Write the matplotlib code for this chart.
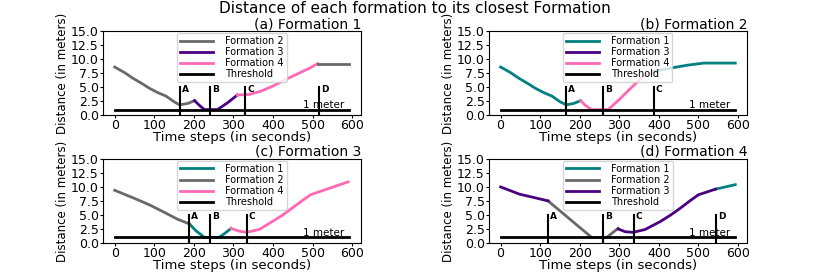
import numpy as np
import matplotlib
matplotlib.use("Agg")
import matplotlib.pyplot as plt

# ============== data ==============
teal = "#008080"
gray = "#696969"
purple = "#4b0082"
pink = "#ff69b4"

t_end = 593
threshold = 1.0

# (a) Formation 1
a_f2_t = [0, 25, 46, 70, 88, 110, 130, 150, 164, 185, 202]
a_f2_d = [8.6, 7.6, 6.6, 5.6, 4.8, 4.0, 3.4, 2.4, 1.85, 2.1, 2.6]
a_f3_t = [202, 215, 227, 260, 285, 310]
a_f3_d = [2.6, 1.7, 1.0, 1.0, 2.2, 3.6]
a_f4_t = [310, 340, 370, 400, 430, 460, 490, 513]
a_f4_d = [3.6, 3.7, 4.3, 5.2, 6.3, 7.3, 8.3, 9.2]
a_f2b_t = [513, 593]
a_f2b_d = [9.2, 9.2]
a_events = [("A", 164), ("B", 241), ("C", 330), ("D", 517)]

# (b) Formation 2
b_f1_t = [0, 25, 46, 70, 88, 110, 130, 150, 166, 185, 202]
b_f1_d = [8.6, 7.6, 6.6, 5.6, 4.8, 4.0, 3.4, 2.4, 1.85, 2.1, 2.6]
b_f4_t = [202, 215, 230, 272, 300, 330, 361, 386]
b_f4_d = [2.6, 1.7, 1.0, 1.0, 2.8, 4.9, 7.0, 7.6]
b_f1b_t = [386, 429, 470, 513, 593]
b_f1b_d = [7.8, 8.4, 8.9, 9.3, 9.3]
b_events = [("A", 164), ("B", 260), ("C", 387)]

# (c) Formation 3
c_f2_t = [0, 45, 88, 130, 160, 189]
c_f2_d = [9.4, 8.1, 6.8, 5.3, 4.2, 3.4]
c_f1_t = [189, 205, 227, 264, 280, 294]
c_f1_d = [3.4, 2.2, 1.0, 1.0, 1.8, 2.6]
c_f4_t = [294, 315, 333, 365, 398, 425, 449, 475, 495, 540, 590]
c_f4_d = [2.6, 2.1, 1.9, 2.4, 3.8, 5.0, 6.25, 7.6, 8.6, 9.7, 10.9]
c_events = [("A", 189), ("B", 242), ("C", 334)]

# (d) Formation 4
d_f3_t = [0, 48, 85, 120]
d_f3_d = [10.0, 8.7, 8.1, 7.5]
d_f2_t = [120, 230, 268, 297]
d_f2_d = [7.5, 1.0, 1.0, 2.6]
d_f3b_t = [297, 315, 335, 365, 403, 430, 454, 480, 500, 543]
d_f3b_d = [2.5, 2.0, 1.9, 2.4, 3.8, 5.0, 6.2, 7.6, 8.6, 9.6]
d_f1_t = [543, 593]
d_f1_d = [9.6, 10.4]
d_events = [("A", 120), ("B", 260), ("C", 336), ("D", 545)]

panels = [
    ("(a) Formation 1",
     [(a_f2_t, a_f2_d, gray, "Formation 2"), (a_f3_t, a_f3_d, purple, "Formation 3"),
      (a_f4_t, a_f4_d, pink, "Formation 4"), (a_f2b_t, a_f2b_d, gray, None)],
     a_events),
    ("(b) Formation 2",
     [(b_f1_t, b_f1_d, teal, "Formation 1"), ([], [], purple, "Formation 3"),
      (b_f4_t, b_f4_d, pink, "Formation 4"), (b_f1b_t, b_f1b_d, teal, None)],
     b_events),
    ("(c) Formation 3",
     [(c_f1_t, c_f1_d, teal, "Formation 1"), (c_f2_t, c_f2_d, gray, "Formation 2"),
      (c_f4_t, c_f4_d, pink, "Formation 4")],
     c_events),
    ("(d) Formation 4",
     [(d_f1_t, d_f1_d, teal, "Formation 1"), (d_f2_t, d_f2_d, gray, "Formation 2"),
      (d_f3_t, d_f3_d, purple, "Formation 3"), (d_f3b_t, d_f3b_d, purple, None)],
     d_events),
]

# ============== plotting ==============
fig = plt.figure(figsize=(8.3, 2.73), dpi=100)
fig.suptitle("Distance of each formation to its closest Formation", fontsize=11, y=0.998)

positions = [
    [0.124, 0.578, 0.311, 0.308],
    [0.589, 0.578, 0.311, 0.308],
    [0.124, 0.110, 0.311, 0.308],
    [0.589, 0.110, 0.311, 0.308],
]

for pos, (title, segs, events) in zip(positions, panels):
    ax = fig.add_axes(pos)
    for t, d, col, lab in segs:
        ax.plot(t, d, color=col, lw=2, label=lab)
    ax.plot([0, t_end], [threshold, threshold], color="black", lw=2, label="Threshold")
    for name, x in events:
        ax.plot([x, x], [0, 5], color="black", lw=1.5)
        ax.text(x + 5, 4.2, name, fontsize=6.5, fontweight="bold")
    ax.text(528, 1.25, "1 meter", fontsize=7.5, ha="center")
    ax.set_ylim(0, 15)
    ax.set_yticks([0, 2.5, 5, 7.5, 10, 12.5, 15])
    ax.set_xticks([0, 100, 200, 300, 400, 500, 600])
    ax.tick_params(labelsize=9, pad=0.5, length=2.5)
    ax.set_title(title, loc="right", fontsize=10, pad=1)
    ax.set_xlabel("Time steps (in seconds)", fontsize=9.5)
    ax.xaxis.set_label_coords(0.5, -0.19)
    ax.set_ylabel("Distance (in meters)", fontsize=8.5, labelpad=1)
    ax.legend(loc="upper center", fontsize=7, handlelength=3.4, handletextpad=1.2,
              borderpad=0.3, labelspacing=0.12, borderaxespad=0.2)

fig.savefig("out.png", dpi=100)
